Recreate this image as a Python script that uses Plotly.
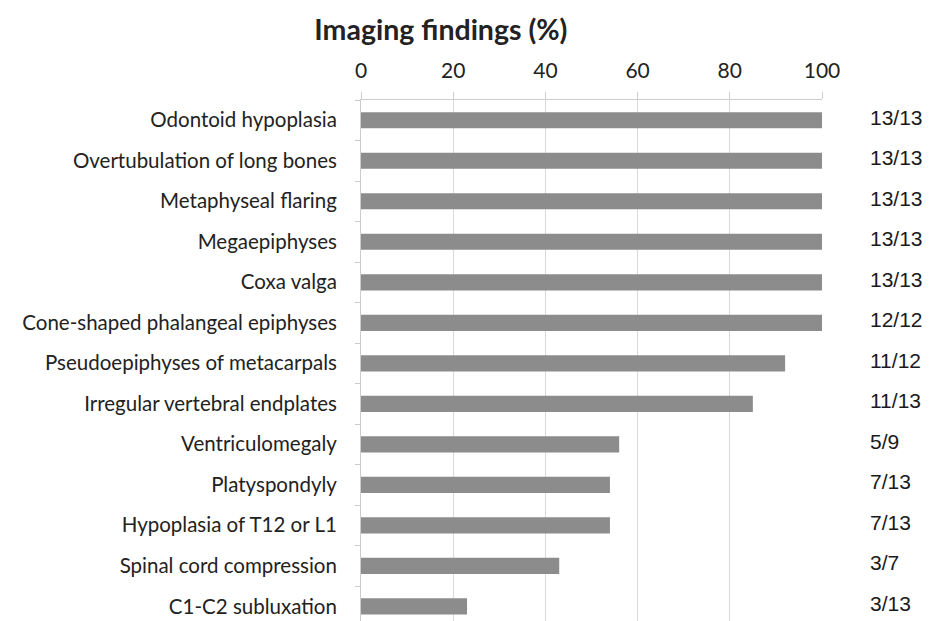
import plotly.graph_objects as go

categories = [
    "Odontoid hypoplasia",
    "Overtubulation of long bones",
    "Metaphyseal flaring",
    "Megaepiphyses",
    "Coxa valga",
    "Cone-shaped phalangeal epiphyses",
    "Pseudoepiphyses of metacarpals",
    "Irregular vertebral endplates",
    "Ventriculomegaly",
    "Platyspondyly",
    "Hypoplasia of T12 or L1",
    "Spinal cord compression",
    "C1-C2 subluxation",
]
values = [100, 100, 100, 100, 100, 100, 92, 85, 56, 54, 54, 43, 23]
fractions = ["13/13", "13/13", "13/13", "13/13", "13/13", "12/12", "11/12",
             "11/13", "5/9", "7/13", "7/13", "3/7", "3/13"]
x_ticks = [0, 20, 40, 60, 80, 100]

fig = go.Figure()
fig.add_trace(go.Bar(
    x=values, y=categories, orientation="h",
    marker=dict(color="#8c8c8c", line=dict(width=0)),
    width=0.4, hoverinfo="skip",
))

for cat, frac in zip(categories, fractions):
    fig.add_annotation(
        x=1, xref="paper", y=cat, yref="y", text=frac, showarrow=False,
        xanchor="left", xshift=46, yshift=3,
        font=dict(family="Liberation Sans", size=21, color="#1a1a1a"),
    )

fig.update_layout(
    width=931, height=621,
    margin=dict(l=353, r=117, t=92, b=0),
    paper_bgcolor="white", plot_bgcolor="white",
    showlegend=False,
    title=dict(text="<b>Imaging findings (%)</b>", x=0.465, xanchor="center",
               y=1 - 22 / 621, yanchor="middle",
               font=dict(family="Lato", size=28.5, color="#222222")),
    xaxis=dict(
        side="top", range=[0, 100], tickvals=x_ticks, ticks="outside",
        ticklen=7, tickcolor="#cccccc", showgrid=True, gridcolor="#d9d9d9",
        gridwidth=1, zeroline=False, showline=True, linecolor="#cccccc",
        tickfont=dict(family="Lato", size=21, color="#222222"),
        ticklabelstandoff=6, automargin=False,
    ),
    yaxis=dict(
        categoryorder="array", categoryarray=categories,
        range=[12.56, -0.5], ticks="outside", tickson="boundaries",
        ticklen=5, tickcolor="#cccccc", showline=True, linecolor="#cccccc",
        showgrid=False, ticklabelstandoff=19, automargin=False,
        tickfont=dict(family="Lato", size=20.5, color="#222222"),
    ),
)

fig.write_html("out.html")
